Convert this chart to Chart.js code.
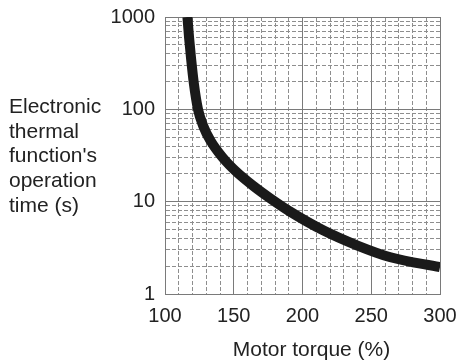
<!DOCTYPE html>
<html><head><meta charset="utf-8">
<script src="https://cdn.jsdelivr.net/npm/chart.js@4/dist/chart.umd.min.js"></script>
<style>html,body{margin:0;padding:0;background:#fff}#wrap{position:relative;width:458px;height:361px}</style>
</head><body><div id="wrap"><canvas id="c" width="458" height="361"></canvas></div>
<script>
// Data
const torque = [116.3, 117.5, 119, 121, 124, 128, 133, 142, 152, 165, 176, 191, 215, 240, 264, 300];
const opTime = [1000, 600, 350, 190, 100, 65, 46, 30, 21, 14.5, 11, 7.8, 4.9, 3.35, 2.5, 1.95];

const xGrid = [100, 110, 120, 130, 140, 150, 160, 170, 180, 190, 200, 210, 220, 230, 240, 250, 260, 270, 280, 290, 300];
const xLabels = [100, 150, 200, 250, 300];
const yGrid = [1, 2, 3, 4, 5, 6, 7, 8, 9, 10, 20, 30, 40, 50, 60, 70, 80, 90, 100, 200, 300, 400, 500, 600, 700, 800, 900, 1000];
const yLabels = [1, 10, 100, 1000];
const yTitleLines = ['Electronic', 'thermal', "function's", 'operation', 'time (s)'];
const xTitle = 'Motor torque (%)';

const FONT = "'Liberation Sans', Arial, Helvetica, sans-serif";
const TEXT = '#222222';
const MAJOR = '#7a7a7a';
const MINOR = '#8e8e8e';

const titles = {
  id: 'titles',
  afterDraw(chart) {
    const ctx = chart.ctx;
    ctx.save();
    ctx.fillStyle = TEXT;
    ctx.font = '21px ' + FONT;
    ctx.textBaseline = 'alphabetic';
    ctx.textAlign = 'left';
    yTitleLines.forEach((t, i) => ctx.fillText(t, 9, 113 + i * 24.7));
    ctx.textAlign = 'center';
    ctx.fillText(xTitle, 311.5, 356);
    ctx.restore();
  }
};

new Chart(document.getElementById('c'), {
  type: 'line',
  data: {
    datasets: [{
      data: torque.map((x, i) => ({ x, y: opTime[i] })),
      borderColor: '#1a1a1a',
      borderWidth: 10,
      pointRadius: 0,
      cubicInterpolationMode: 'monotone',
      fill: false
    }]
  },
  options: {
    responsive: false,
    animation: false,
    devicePixelRatio: 1,
    layout: { padding: { left: 0, right: 18, top: 17, bottom: 0 } },
    plugins: { legend: { display: false }, tooltip: { enabled: false } },
    scales: {
      x: {
        type: 'linear', min: 100, max: 300,
        afterBuildTicks: s => { s.ticks = xGrid.map(v => ({ value: v })); },
        afterFit: s => { s.height = 67; s.paddingLeft = 0; s.paddingRight = 0; },
        ticks: {
          autoSkip: false, maxRotation: 0, padding: 10,
          color: TEXT, font: { family: FONT, size: 20 },
          callback: v => xLabels.includes(v) ? String(v) : ''
        },
        grid: {
          drawTicks: false,
          color: c => (c.tick && xLabels.includes(c.tick.value)) ? MAJOR : MINOR,
          lineWidth: 1
        },
        border: {
          color: MAJOR, width: 1,
          dash: c => (c.tick && !xLabels.includes(c.tick.value)) ? [4, 2] : []
        }
      },
      y: {
        type: 'logarithmic', min: 1, max: 1000,
        afterBuildTicks: s => { s.ticks = yGrid.map(v => ({ value: v })); },
        afterFit: s => { s.width = 165; s.paddingTop = 0; s.paddingBottom = 0; },
        ticks: {
          autoSkip: false, padding: 10,
          color: TEXT, font: { family: FONT, size: 20 },
          callback: v => yLabels.includes(v) ? String(v) : ''
        },
        grid: {
          drawTicks: false,
          color: c => (c.tick && yLabels.includes(c.tick.value)) ? MAJOR : MINOR,
          lineWidth: 1
        },
        border: {
          color: MAJOR, width: 1,
          dash: c => (c.tick && !yLabels.includes(c.tick.value)) ? [4, 2] : []
        }
      }
    }
  },
  plugins: [titles]
});
</script></body></html>
